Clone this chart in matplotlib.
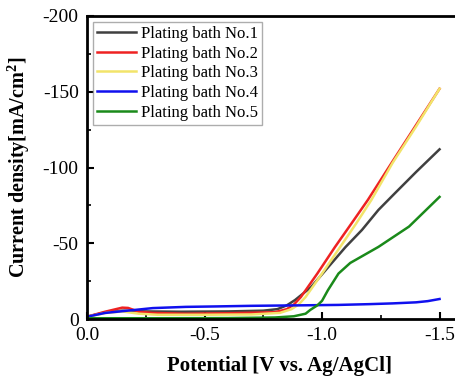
import matplotlib
matplotlib.use("Agg")
import matplotlib.pyplot as plt
from matplotlib.ticker import MultipleLocator, FormatStrFormatter

plt.rcParams['font.family'] = ['Liberation Serif', 'DejaVu Serif']
plt.rcParams['axes.unicode_minus'] = False
plt.rcParams['mathtext.fontset'] = 'custom'
plt.rcParams['mathtext.rm'] = 'Liberation Serif'
plt.rcParams['mathtext.bf'] = 'Liberation Serif:bold'

labels = ["Plating bath No.1", "Plating bath No.2", "Plating bath No.3",
          "Plating bath No.4", "Plating bath No.5"]
colors = ["#404040", "#ee2222", "#f2e46a", "#1010ee", "#1a8a1a"]

x1 = [0, -0.08, -0.15, -0.25, -0.4, -0.6, -0.75, -0.81, -0.85, -0.885, -0.953,
      -1.025, -1.10, -1.17, -1.24, -1.31, -1.4, -1.5]
y1 = [-1.5, -4.5, -5.5, -5.0, -4.8, -5.0, -5.5, -6.5, -9, -12.5, -21,
      -34, -47.5, -58.8, -72, -83, -97, -112]

x2 = [0, -0.077, -0.15, -0.175, -0.22, -0.28, -0.42, -0.6, -0.8, -0.85, -0.88,
      -0.91, -0.98, -1.055, -1.125, -1.195, -1.3, -1.4, -1.5]
y2 = [-1.5, -4.8, -7.5, -7.3, -4.8, -4.0, -3.5, -3.8, -4.5, -6.5, -9.5,
      -14.5, -30, -47.5, -63, -78.6, -104, -128, -152]

x3 = [0, -0.08, -0.15, -0.22, -0.3, -0.5, -0.7, -0.82, -0.87, -0.9, -0.93,
      -1.0, -1.077, -1.145, -1.21, -1.3, -1.4, -1.5]
y3 = [-1.5, -4.0, -5.0, -3.5, -2.8, -2.8, -3.0, -4, -6.5, -9.5, -14.5,
      -30, -47.5, -63, -78.6, -103, -127, -152]

x4 = [0, -0.077, -0.16, -0.28, -0.42, -0.55, -0.7, -0.9, -1.07, -1.2, -1.3,
      -1.4, -1.45, -1.5]
y4 = [-1.5, -4, -5.3, -7.2, -8.0, -8.3, -8.7, -9.0, -9.3, -9.8, -10.3,
      -11, -11.8, -13.2]

x5 = [0, -0.3, -0.6, -0.8, -0.88, -0.93, -0.95, -0.98, -1.0, -1.025, -1.07,
      -1.12, -1.24, -1.37, -1.5]
y5 = [-0.5, -0.5, -0.6, -1.0, -1.8, -3.5, -6, -9, -12, -19, -30,
      -37, -47.6, -61, -80.6]

xs = [x1, x2, x3, x4, x5]
ys = [y1, y2, y3, y4, y5]

fig = plt.figure(figsize=(4.56, 3.79), dpi=100)
ax = fig.add_axes([87/456, 1 - 319/379, 1 - 87/456, (319 - 16)/379])

for x, y, c, l in zip(xs, ys, colors, labels):
    ax.plot(x, y, color=c, lw=1.8, label=l, solid_joinstyle='round')

ax.set_xlim(0, -1.57)
ax.set_ylim(0, -200)
ax.xaxis.set_major_locator(MultipleLocator(0.5))
ax.xaxis.set_minor_locator(MultipleLocator(0.25))
ax.xaxis.set_major_formatter(FormatStrFormatter('%.1f'))
ax.yaxis.set_major_locator(MultipleLocator(50))
ax.yaxis.set_minor_locator(MultipleLocator(25))
ax.yaxis.set_major_formatter(FormatStrFormatter('%d'))

ax.tick_params(which='major', direction='in', length=5, width=1.5, labelsize=14)
ax.tick_params(axis='x', which='major', pad=6)
ax.tick_params(axis='y', which='major', pad=6)
ax.tick_params(which='minor', direction='in', length=3, width=1.2)
for s in ax.spines.values():
    s.set_linewidth(2)

ax.set_xlabel("Potential [V vs. Ag/AgCl]", fontsize=15, fontweight='bold')
ax.xaxis.set_label_coords(0.523, -0.122)
ax.set_ylabel(r"Current density[mA/cm$^{\mathbf{2}}$]", fontsize=14.5, fontweight='bold')
ax.yaxis.set_label_coords(-0.149, 0.50)

leg = ax.legend(loc='upper left', fontsize=12, frameon=True, fancybox=False,
                edgecolor='#999999', borderaxespad=0.35, handlelength=2.35,
                labelspacing=0.22, borderpad=0.25, handletextpad=0.3)
leg.get_frame().set_linewidth(1.0)

fig.savefig("out.png", dpi=100)
